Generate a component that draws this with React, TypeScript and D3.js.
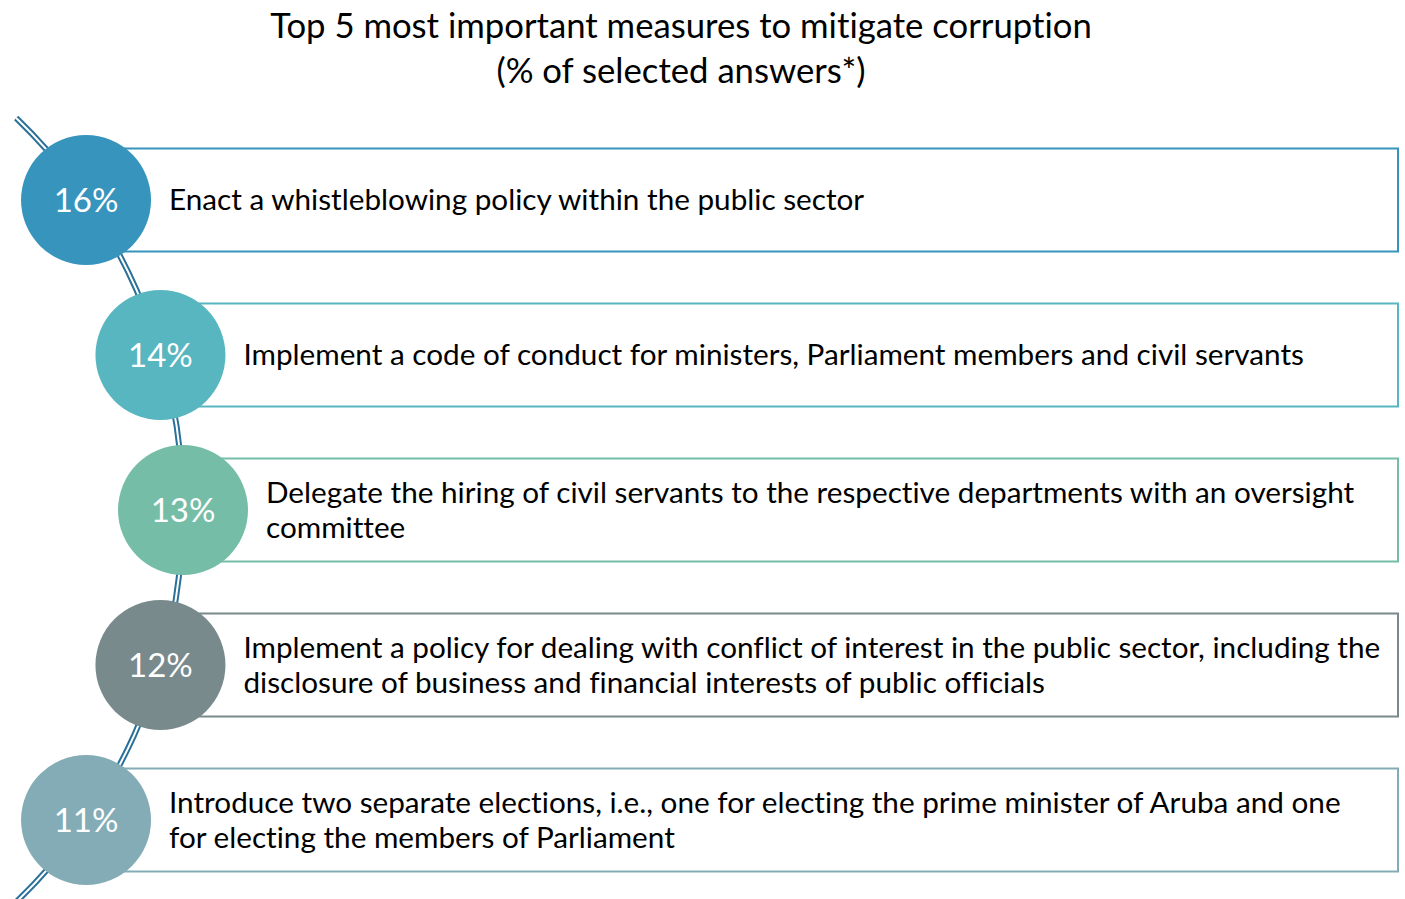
import React from "react";
import * as d3 from "d3";

const titleLines = ["Top 5 most important measures to mitigate corruption", "(% of selected answers*)"];
const percents = [16, 14, 13, 12, 11];
const measures: string[][] = [
  ["Enact a whistleblowing policy within the public sector"],
  ["Implement a code of conduct for ministers, Parliament members and civil servants"],
  ["Delegate the hiring of civil servants to the respective departments with an oversight", "committee"],
  ["Implement a policy for dealing with conflict of interest in the public sector, including the", "disclosure of business and financial interests of public officials"],
  ["Introduce two separate elections, i.e., one for electing the prime minister of Aruba and one", "for electing the members of Parliament"],
];
const colors = ["#3794bc", "#58b6c0", "#75bda7", "#788a8c", "#84acb6"];

const W = 1405;
const H = 899;
const FONT = "Lato, 'Open Sans', sans-serif";

export default function App() {
  const idx = d3.range(percents.length).map(String);
  const y = d3.scalePoint<string>().domain(idx).range([200, 820]);
  const arcCx = -361;
  const arcCy = 510;
  const R = 544;
  const xOnArc = (yy: number) => arcCx + Math.sqrt(R * R - (yy - arcCy) ** 2);
  const r = 65;
  const boxH = 103;
  const boxRight = 1398;
  const y0 = 118;
  const y1 = 906;
  const arcPath = `M ${xOnArc(y0)} ${y0} A ${R} ${R} 0 0 1 ${xOnArc(y1)} ${y1}`;
  const lineH = 35;
  const noLig = { fontVariantLigatures: "none" } as React.CSSProperties;

  return (
    <svg width={W} height={H} style={{ position: "absolute", left: 0, top: 0, background: "#fff" }}>
      {titleLines.map((t, i) => (
        <text key={i} x={681} y={24 + i * 45} textAnchor="middle" dominantBaseline="central"
          fontFamily={FONT} fontSize={34.7} fill="#000" style={noLig}>{t}</text>
      ))}
      <path d={arcPath} fill="none" stroke="#2b7098" strokeWidth={6} />
      <path d={arcPath} fill="none" stroke="#fff" strokeWidth={2} />
      {percents.map((p, i) => {
        const cy = y(String(i))!;
        const cx = xOnArc(cy);
        const lines = measures[i];
        return (
          <g key={i}>
            <rect x={cx} y={cy - boxH / 2} width={boxRight - cx} height={boxH} fill="#fff"
              stroke={colors[i]} strokeWidth={2} />
            <circle cx={cx} cy={cy} r={r} fill={colors[i]} />
            <text x={cx} y={cy - 1} textAnchor="middle" dominantBaseline="central" fontFamily={FONT}
              fontSize={33} fill="#fff">{`${p}%`}</text>
            {lines.map((l, j) => (
              <text key={j} x={cx + 83} y={cy - 1.5 + (j - (lines.length - 1) / 2) * lineH}
                dominantBaseline="central" fontFamily={FONT} fontSize={29.7} fill="#000"
                style={noLig}>{l}</text>
            ))}
          </g>
        );
      })}
    </svg>
  );
}
